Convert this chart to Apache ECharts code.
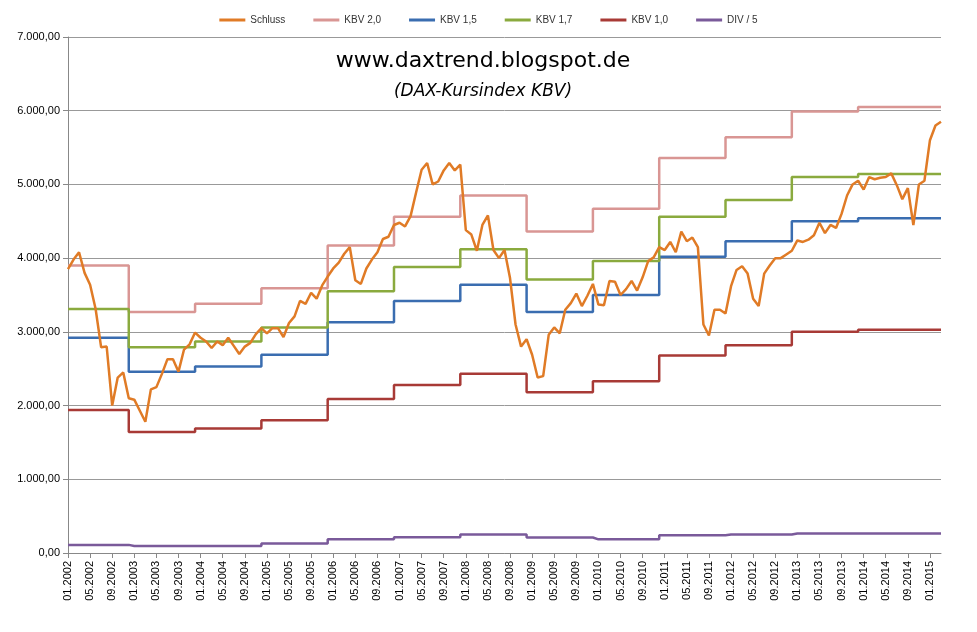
<!DOCTYPE html>
<html><head><meta charset="utf-8">
<script src="https://cdn.jsdelivr.net/npm/echarts@6/dist/echarts.min.js"></script>
<style>html,body{margin:0;padding:0;background:#fff}#c{width:977px;height:632px}</style>
</head><body><div id="c"></div>
<script>
const years=[2002,2003,2004,2005,2006,2007,2008,2009,2010,2011,2012,2013,2014,2015];
const categories=[];
years.forEach(y=>{for(let m=1;m<=12;m++){if(y===2015&&m>3)break;categories.push(String(m).padStart(2,'0')+'.'+y);}});
const schluss=[
3850,3980,4080,3800,3640,3310,2790,2800,2000,2380,2450,2100,
2080,1930,1780,2220,2250,2430,2630,2630,2460,2760,2830,2990,
2920,2870,2780,2870,2820,2920,2810,2700,2800,2850,2970,3050,
2980,3050,3050,2930,3120,3210,3420,3380,3530,3450,3630,3750,
3860,3940,4060,4150,3700,3650,3860,3980,4080,4260,4290,4450,
4480,4430,4570,4890,5200,5290,5000,5040,5190,5290,5190,5270,
4380,4320,4100,4450,4580,4110,4000,4110,3730,3100,2800,2900,
2690,2380,2400,2960,3060,2980,3300,3390,3520,3350,3490,3650,
3370,3360,3690,3680,3500,3580,3690,3560,3740,3960,4010,4150,
4110,4220,4080,4360,4230,4280,4150,3100,2950,3300,3300,3250,
3620,3840,3890,3790,3450,3350,3790,3900,4000,4000,4050,4100,
4240,4220,4250,4310,4480,4340,4450,4410,4600,4850,5000,5050,
4930,5100,5070,5090,5100,5150,4990,4800,4950,4450,5000,5050,
5600,5800,5850];
const kbv20=[3900,3270,3380,3590,4170,4560,4850,4360,4670,5360,5640,5990,6050,6050];
const kbv15=[2920,2460,2530,2690,3130,3420,3640,3270,3500,4020,4230,4500,4540,4540];
const kbv17=[3310,2790,2870,3060,3550,3880,4120,3710,3960,4560,4790,5100,5140,5140];
const kbv10=[1940,1640,1690,1800,2090,2280,2430,2180,2330,2680,2820,3000,3030,3030];
const div5=[110,95,95,130,185,215,250,210,185,240,250,265,265,265];
const expand=a=>categories.map(c=>a[years.indexOf(+c.slice(3))]);
const fmt=v=>{const s=Math.round(v).toString().replace(/\B(?=(\d{3})+(?!\d))/g,'.');return s+',00';};
const mk=(name,data,color,w)=>({name,type:'line',data,symbol:'none',step:name==='Schluss'?false:'start',lineStyle:{color,width:w},itemStyle:{color},z:name==='Schluss'?5:2});
const ch=echarts.init(document.getElementById('c'));
ch.setOption({
 animation:false,
 textStyle:{fontFamily:'Liberation Sans'},
 legend:{top:10,left:'center',itemWidth:26,itemHeight:3,itemGap:28,textStyle:{fontSize:10,color:'#333'},icon:'rect',
  data:['Schluss','KBV 2,0','KBV 1,5','KBV 1,7','KBV 1,0','DIV / 5']},
 title:[{text:'www.daxtrend.blogspot.de',left:478,top:45,textAlign:'center',textStyle:{fontSize:22,fontWeight:'normal',color:'#000',fontFamily:'DejaVu Sans'}},
  {text:'(DAX-Kursindex KBV)',left:478,top:78,textAlign:'center',textStyle:{fontSize:17,fontStyle:'italic',fontWeight:'normal',color:'#000',fontFamily:'DejaVu Sans'}}],
 grid:{left:68,right:36,top:37,bottom:79},
 xAxis:{type:'category',data:categories,boundaryGap:false,
  axisLine:{lineStyle:{color:'#888'}},axisTick:{interval:3,lineStyle:{color:'#888'}},
  axisLabel:{interval:3,rotate:90,fontSize:11,color:'#000'}},
 yAxis:{type:'value',min:0,max:7000,interval:1000,
  axisLine:{show:true,lineStyle:{color:'#888'}},axisTick:{show:true},
  splitLine:{lineStyle:{color:'#999'}},
  axisLabel:{formatter:fmt,fontSize:11,color:'#000'}},
 series:[mk('Schluss',schluss,'#E07B26',2.5),mk('KBV 2,0',expand(kbv20),'#D99694',2.5),
  mk('KBV 1,5',expand(kbv15),'#3A6DB0',2.5),mk('KBV 1,7',expand(kbv17),'#8AAA3E',2.5),
  mk('KBV 1,0',expand(kbv10),'#A83A36',2.5),mk('DIV / 5',expand(div5),'#7A5A9A',2.5)]
});
</script></body></html>
